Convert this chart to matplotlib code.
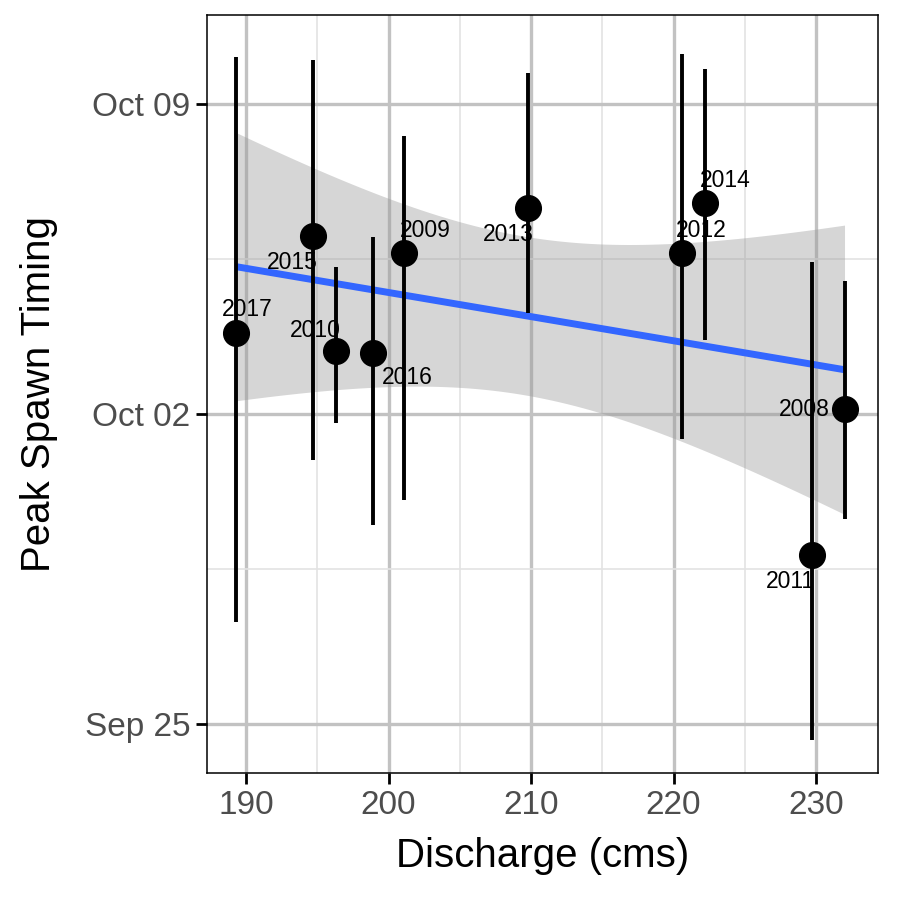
import numpy as np
import matplotlib
matplotlib.use('Agg')
import matplotlib.pyplot as plt
from matplotlib.ticker import FixedLocator

# discharge (cms) and peak spawn timing (days after Oct 02)
years     = ['2017', '2015', '2010', '2016', '2009', '2013', '2012', '2014', '2011', '2008']
discharge = [189.3, 194.7, 196.3, 198.9, 201.1, 209.8, 220.6, 222.2, 229.7, 232.0]
peak      = [1.83, 4.02, 1.42, 1.38, 3.64, 4.65, 3.64, 4.76, -3.18, 0.11]
peak_lo   = [-4.70, -1.04, -0.20, -2.51, -1.94, 2.28, -0.56, 1.67, -7.36, -2.37]
peak_hi   = [8.06, 7.99, 3.32, 4.00, 6.28, 7.70, 8.13, 7.79, 3.43, 3.00]

y_ticks = [-7, 0, 7]
y_tick_labels = ['Sep 25', 'Oct 02', 'Oct 09']
x_ticks = [190, 200, 210, 220, 230]

# label offsets in points (dx, dy)
label_off = [(8, 17), (-15, -19), (-15, 15), (25, -18), (15, 16),
             (-14, -19), (14, 16), (15, 16), (-15, -19), (-29, 0)]

plt.rcParams['font.family'] = ['Liberation Sans', 'DejaVu Sans']

x = np.array(discharge)
y = np.array(peak)

# lm fit with 95% confidence band (like geom_smooth(method='lm'))
n = len(x)
slope, icpt = np.polyfit(x, y, 1)
resid = y - (slope * x + icpt)
s = np.sqrt(np.sum(resid ** 2) / (n - 2))
sxx = np.sum((x - x.mean()) ** 2)
t975 = 2.306  # df = 8
xs = np.linspace(x.min(), x.max(), 80)
ys = slope * xs + icpt
se = s * np.sqrt(1.0 / n + (xs - x.mean()) ** 2 / sxx)

fig = plt.figure(figsize=(8.99, 8.99), dpi=100)
ax = fig.add_axes([207 / 899, 1 - 773 / 899, (878 - 207) / 899, (773 - 15) / 899])

ax.set_xlim(187.26, 234.35)
ax.set_ylim(-8.11, 9.01)

ax.xaxis.set_major_locator(FixedLocator(x_ticks))
ax.xaxis.set_minor_locator(FixedLocator([195, 205, 215, 225]))
ax.yaxis.set_major_locator(FixedLocator(y_ticks))
ax.yaxis.set_minor_locator(FixedLocator([-3.5, 3.5]))
ax.set_yticklabels(y_tick_labels)

ax.grid(which='major', color='#C2C2C2', linewidth=2.4, zorder=0)
ax.grid(which='minor', color='#E3E3E3', linewidth=1.2, zorder=0)
ax.set_axisbelow(True)

ax.fill_between(xs, ys - t975 * se, ys + t975 * se, color='#999999', alpha=0.4,
                linewidth=0, zorder=1)
ax.plot(xs, ys, color='#3366FF', linewidth=5, solid_capstyle='butt', zorder=2)

lo = np.array(peak_lo)
hi = np.array(peak_hi)
ax.vlines(x, lo, hi, color='black', linewidth=2.8, zorder=3)
ax.plot(x, y, 'o', color='black', markersize=18.5, zorder=4)

for i, yr in enumerate(years):
    ax.annotate(yr, (x[i], y[i]), xytext=label_off[i], textcoords='offset points',
                ha='center', va='center', fontsize=16.5, zorder=5)

for sp in ax.spines.values():
    sp.set_linewidth(1.1)
    sp.set_color('black')

ax.tick_params(which='major', length=8, width=2, color='black', labelsize=24,
               labelcolor='#4D4D4D', pad=4)
ax.tick_params(which='minor', length=0)

ax.set_xlabel('Discharge (cms)', fontsize=29, labelpad=12)
ax.set_ylabel('Peak Spawn Timing', fontsize=29, labelpad=19)

fig.savefig('out.png', dpi=100)
